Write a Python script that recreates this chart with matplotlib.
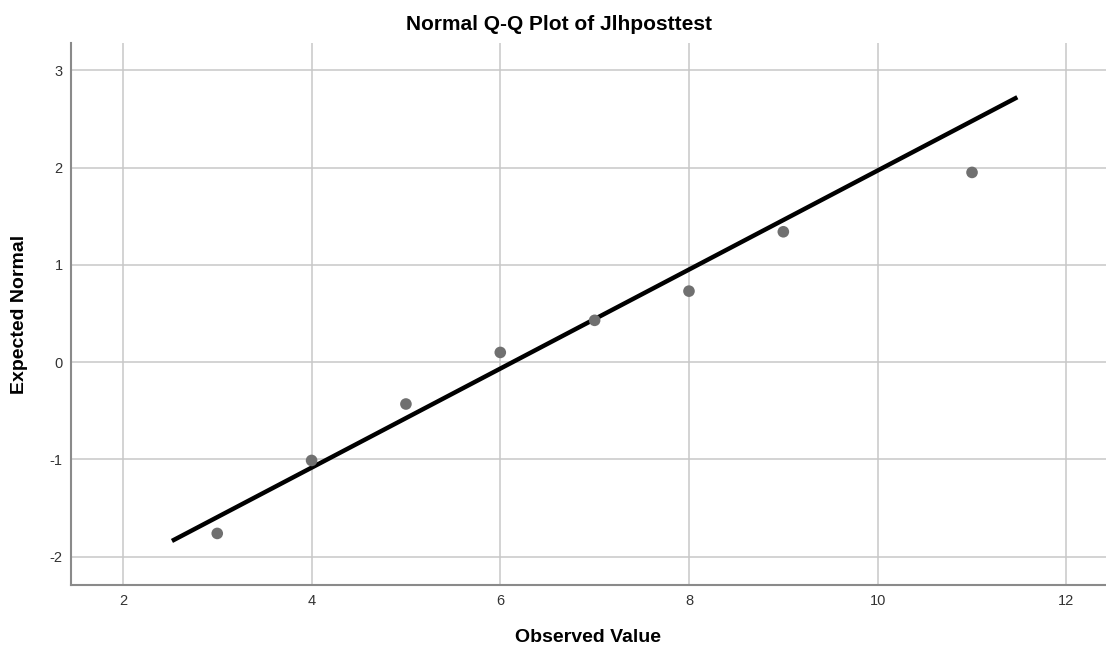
import matplotlib.pyplot as plt
import numpy as np

plt.rcParams['font.family'] = ['Liberation Sans', 'DejaVu Sans']
plt.rcParams['axes.unicode_minus'] = False

# observed values and their expected normal scores
observed = [3, 4, 5, 6, 7, 8, 9, 11]
expected = [-1.76, -1.01, -0.43, 0.10, 0.43, 0.73, 1.34, 1.95]

# reference line (normal with sample mean / sd)
mean = 6.13
sd = 1.965
line_x = np.array([2.52, 11.48])
line_y = (line_x - mean) / sd

x_ticks = [2, 4, 6, 8, 10, 12]
y_ticks = [-2, -1, 0, 1, 2, 3]

fig = plt.figure(figsize=(11.06, 6.48), dpi=100)
ax = fig.add_axes([71 / 1106, 1 - 585 / 648, 1 - 71 / 1106, (585 - 43) / 648])

ax.set_xlim(1.45, 12.42)
ax.set_ylim(-2.29, 3.28)
ax.set_xticks(x_ticks)
ax.set_yticks(y_ticks)
ax.grid(True, color='#c8c8c8', linewidth=1.1)
ax.set_axisbelow(True)

ax.plot(line_x, line_y, color='black', linewidth=3.2, solid_capstyle='butt', zorder=3)
ax.scatter(observed, expected, s=70, color='#707070', edgecolors='none', zorder=4)

for side in ['top', 'right']:
    ax.spines[side].set_visible(False)
for side in ['left', 'bottom']:
    ax.spines[side].set_color('#8a8a8a')
    ax.spines[side].set_linewidth(1.5)

ax.tick_params(length=0, labelsize=10.5, colors='#333333', pad=6.5)
ax.tick_params(axis='y', pad=6)

# axis titles placed in figure pixels so nothing gets clipped
fig.text(588 / 1106, 1 - 638 / 648, 'Observed Value', ha='center', va='center',
         fontsize=14, fontweight='bold')
fig.text(20 / 1106, 1 - 314 / 648, 'Expected Normal', ha='center', va='center',
         rotation=90, fontsize=14, fontweight='bold')
fig.text(559 / 1106, 1 - 25 / 648, 'Normal Q-Q Plot of Jlhposttest',
         ha='center', va='center', fontsize=15, fontweight='bold')

fig.savefig('out.png', dpi=100)
